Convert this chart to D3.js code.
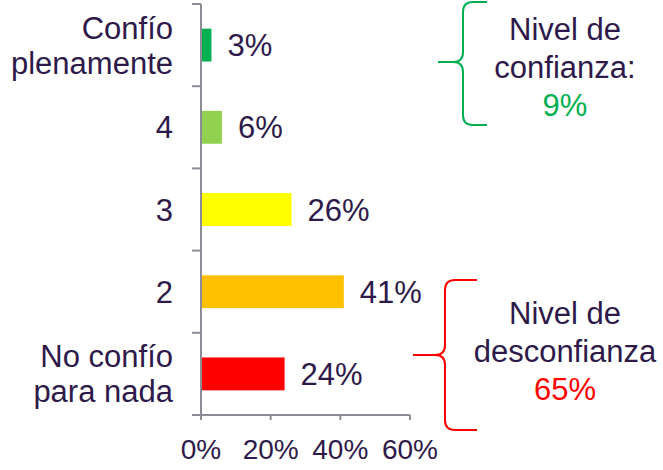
<!DOCTYPE html>
<html><head><meta charset="utf-8">
<script src="https://cdn.jsdelivr.net/npm/d3@7"></script>
<style>
body{margin:0;background:#fff;}
text{font-family:"Liberation Sans",Arial,sans-serif;}
</style></head>
<body><svg id="c" width="663" height="470"></svg>
<script>
const categories = [["Confío","plenamente"],["4"],["3"],["2"],["No confío","para nada"]];
const values = [0.03, 0.06, 0.26, 0.41, 0.24];
const colors = ["#00B050","#92D050","#FFFF00","#FFC000","#FF0000"];
const xTicks = [0, 0.2, 0.4, 0.6];
const groupLabels = [
  {lines:["Nivel de","confianza:"], value:"9%", color:"#00B050"},
  {lines:["Nivel de","desconfianza"], value:"65%", color:"#FF0000"}
];

const textColor = "#2E1A4A";
const axisColor = "#8C8C96";
const fs = 31;
const svg = d3.select("#c");
const keys = categories.map((d,i)=>i);
const x = d3.scaleLinear().domain([0,0.6]).range([201,410]);
const y = d3.scaleBand().domain(keys).range([4,415]).paddingInner(0.6).paddingOuter(0.3);
const step = y.step();

// bars
svg.selectAll("rect.bar").data(values).join("rect")
  .attr("x", x(0)).attr("y",(d,i)=>y(i))
  .attr("width", d=>x(d)-x(0)).attr("height", y.bandwidth())
  .attr("fill",(d,i)=>colors[i]);

// value labels
svg.selectAll("text.val").data(values).join("text")
  .attr("x", d=>x(d)+16).attr("y",(d,i)=>y(i)+y.bandwidth()/2+11)
  .attr("font-size",fs).attr("fill",textColor)
  .text(d=>Math.round(d*100)+"%");

// y axis line and ticks at band boundaries
const bounds = keys.map(i=>y(i)-y.paddingInner()*step/2).concat([415]);
bounds[0]=4;
svg.append("line").attr("x1",x(0)).attr("x2",x(0)).attr("y1",4).attr("y2",415)
  .attr("stroke",axisColor).attr("stroke-width",2);
svg.selectAll("line.yt").data(bounds).join("line")
  .attr("x1",192).attr("x2",x(0)).attr("y1",d=>d).attr("y2",d=>d)
  .attr("stroke",axisColor).attr("stroke-width",2);

// x axis
svg.append("line").attr("x1",192).attr("x2",x(0.6)).attr("y1",415).attr("y2",415)
  .attr("stroke",axisColor).attr("stroke-width",2);
svg.selectAll("line.xt").data(xTicks).join("line")
  .attr("x1",d=>x(d)).attr("x2",d=>x(d)).attr("y1",415).attr("y2",420)
  .attr("stroke",axisColor).attr("stroke-width",2);
svg.selectAll("text.xl").data(xTicks).join("text")
  .attr("x",d=>x(d)).attr("y",459).attr("text-anchor","middle")
  .attr("font-size",28).attr("fill",textColor)
  .text(d=>Math.round(d*100)+"%");

// category labels
categories.forEach((lines,i)=>{
  const cy = y(i)+y.bandwidth()/2;
  const lh = 35;
  const t = svg.append("text").attr("text-anchor","end").attr("font-size",fs).attr("fill",textColor);
  lines.forEach((l,j)=>{
    t.append("tspan").attr("x",173).attr("y", cy + 11 + (j-(lines.length-1)/2)*lh).text(l);
  });
});

// braces
function brace(xTip, xV, xEnd, yTop, yMid, yBot, color){
  const r = 10;
  const p = `M${xEnd},${yTop} L${xV+r},${yTop} Q${xV},${yTop} ${xV},${yTop+r}
    L${xV},${yMid-r} Q${xV},${yMid} ${xV-r},${yMid} L${xTip},${yMid}
    M${xV-r},${yMid} Q${xV},${yMid} ${xV},${yMid+r}
    L${xV},${yBot-r} Q${xV},${yBot} ${xV+r},${yBot} L${xEnd},${yBot}`;
  svg.append("path").attr("d",p).attr("fill","none").attr("stroke",color).attr("stroke-width",2);
}
brace(438,463,487,2,62,125,groupLabels[0].color);
brace(413,445,477,280,355,430,groupLabels[1].color);

// group labels
const glPos = [{x:565,y:40},{x:565,y:324}];
groupLabels.forEach((g,i)=>{
  const t = svg.append("text").attr("text-anchor","middle").attr("font-size",fs);
  g.lines.forEach((l,j)=>{
    t.append("tspan").attr("x",glPos[i].x).attr("y",glPos[i].y+j*38).attr("fill",textColor).text(l);
  });
  t.append("tspan").attr("x",glPos[i].x).attr("y",glPos[i].y+2*38).attr("fill",g.color).text(g.value);
});
</script></body></html>
